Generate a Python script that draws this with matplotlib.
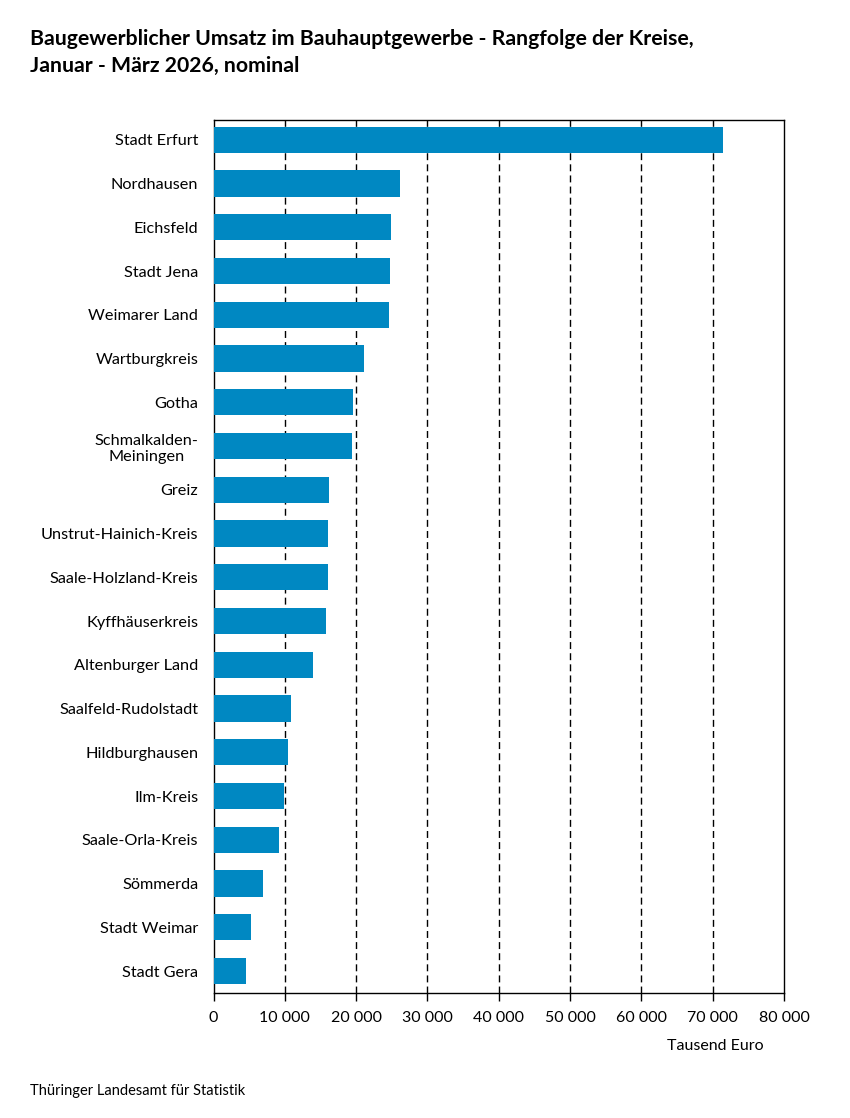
import matplotlib
matplotlib.use('Agg')
from matplotlib import pyplot as plt
from matplotlib.ticker import FuncFormatter

kreise = ['Stadt Erfurt', 'Nordhausen', 'Eichsfeld', 'Stadt Jena', 'Weimarer Land',
          'Wartburgkreis', 'Gotha', 'Schmalkalden-\nMeiningen', 'Greiz',
          'Unstrut-Hainich-Kreis', 'Saale-Holzland-Kreis', 'Kyffhäuserkreis',
          'Altenburger Land', 'Saalfeld-Rudolstadt', 'Hildburghausen', 'Ilm-Kreis',
          'Saale-Orla-Kreis', 'Sömmerda', 'Stadt Weimar', 'Stadt Gera']
umsatz = [71500, 26200, 24900, 24800, 24550, 21050, 19550, 19450, 16220,
          16060, 16050, 15730, 14000, 10850, 10380, 9860, 9250, 6960, 5210, 4560]
x_ticks = [0, 10000, 20000, 30000, 40000, 50000, 60000, 70000, 80000]

plt.rcParams['font.family'] = ['Lato', 'DejaVu Sans']

fig = plt.figure(figsize=(8.5, 11.18), dpi=100)
ax = fig.add_axes([0.2512, 0.1118, 0.6712, 0.7812])

pos = list(range(len(kreise)))
ax.barh(pos, umsatz, height=0.6, color='#0088c2', zorder=3)
ax.set_ylim(19.5, -0.46)
ax.set_xlim(0, 80000)
ax.set_yticks(pos)
ax.set_yticklabels(kreise, fontsize=11.7, multialignment='center')
ax.tick_params(axis='y', length=0, pad=11)
ax.set_xticks(x_ticks)
ax.xaxis.set_major_formatter(FuncFormatter(lambda v, p: f'{int(v):,}'.replace(',', ' ')))
ax.tick_params(axis='x', direction='out', length=6, width=1, labelsize=11.5, pad=7)

for v in x_ticks[1:-1]:
    ax.axvline(v, color='black', linestyle=(0, (5, 3)), linewidth=1, zorder=2)

for s in ax.spines.values():
    s.set_linewidth(1)
    s.set_color('black')

fig.text(30 / 850, 1 - 29 / 1118, 'Baugewerblicher Umsatz im Bauhauptgewerbe - Rangfolge der Kreise,\nJanuar - März 2026, nominal',
         fontsize=15.3, fontweight='bold', va='top', ha='left', linespacing=1.42)
fig.text(715 / 850, 1 - 1046 / 1118, 'Tausend Euro', fontsize=11.5, ha='center', va='center')
fig.text(30 / 850, 1 - 1091 / 1118, 'Thüringer Landesamt für Statistik', fontsize=10.5, ha='left', va='center')

fig.savefig('out.png', dpi=100)
